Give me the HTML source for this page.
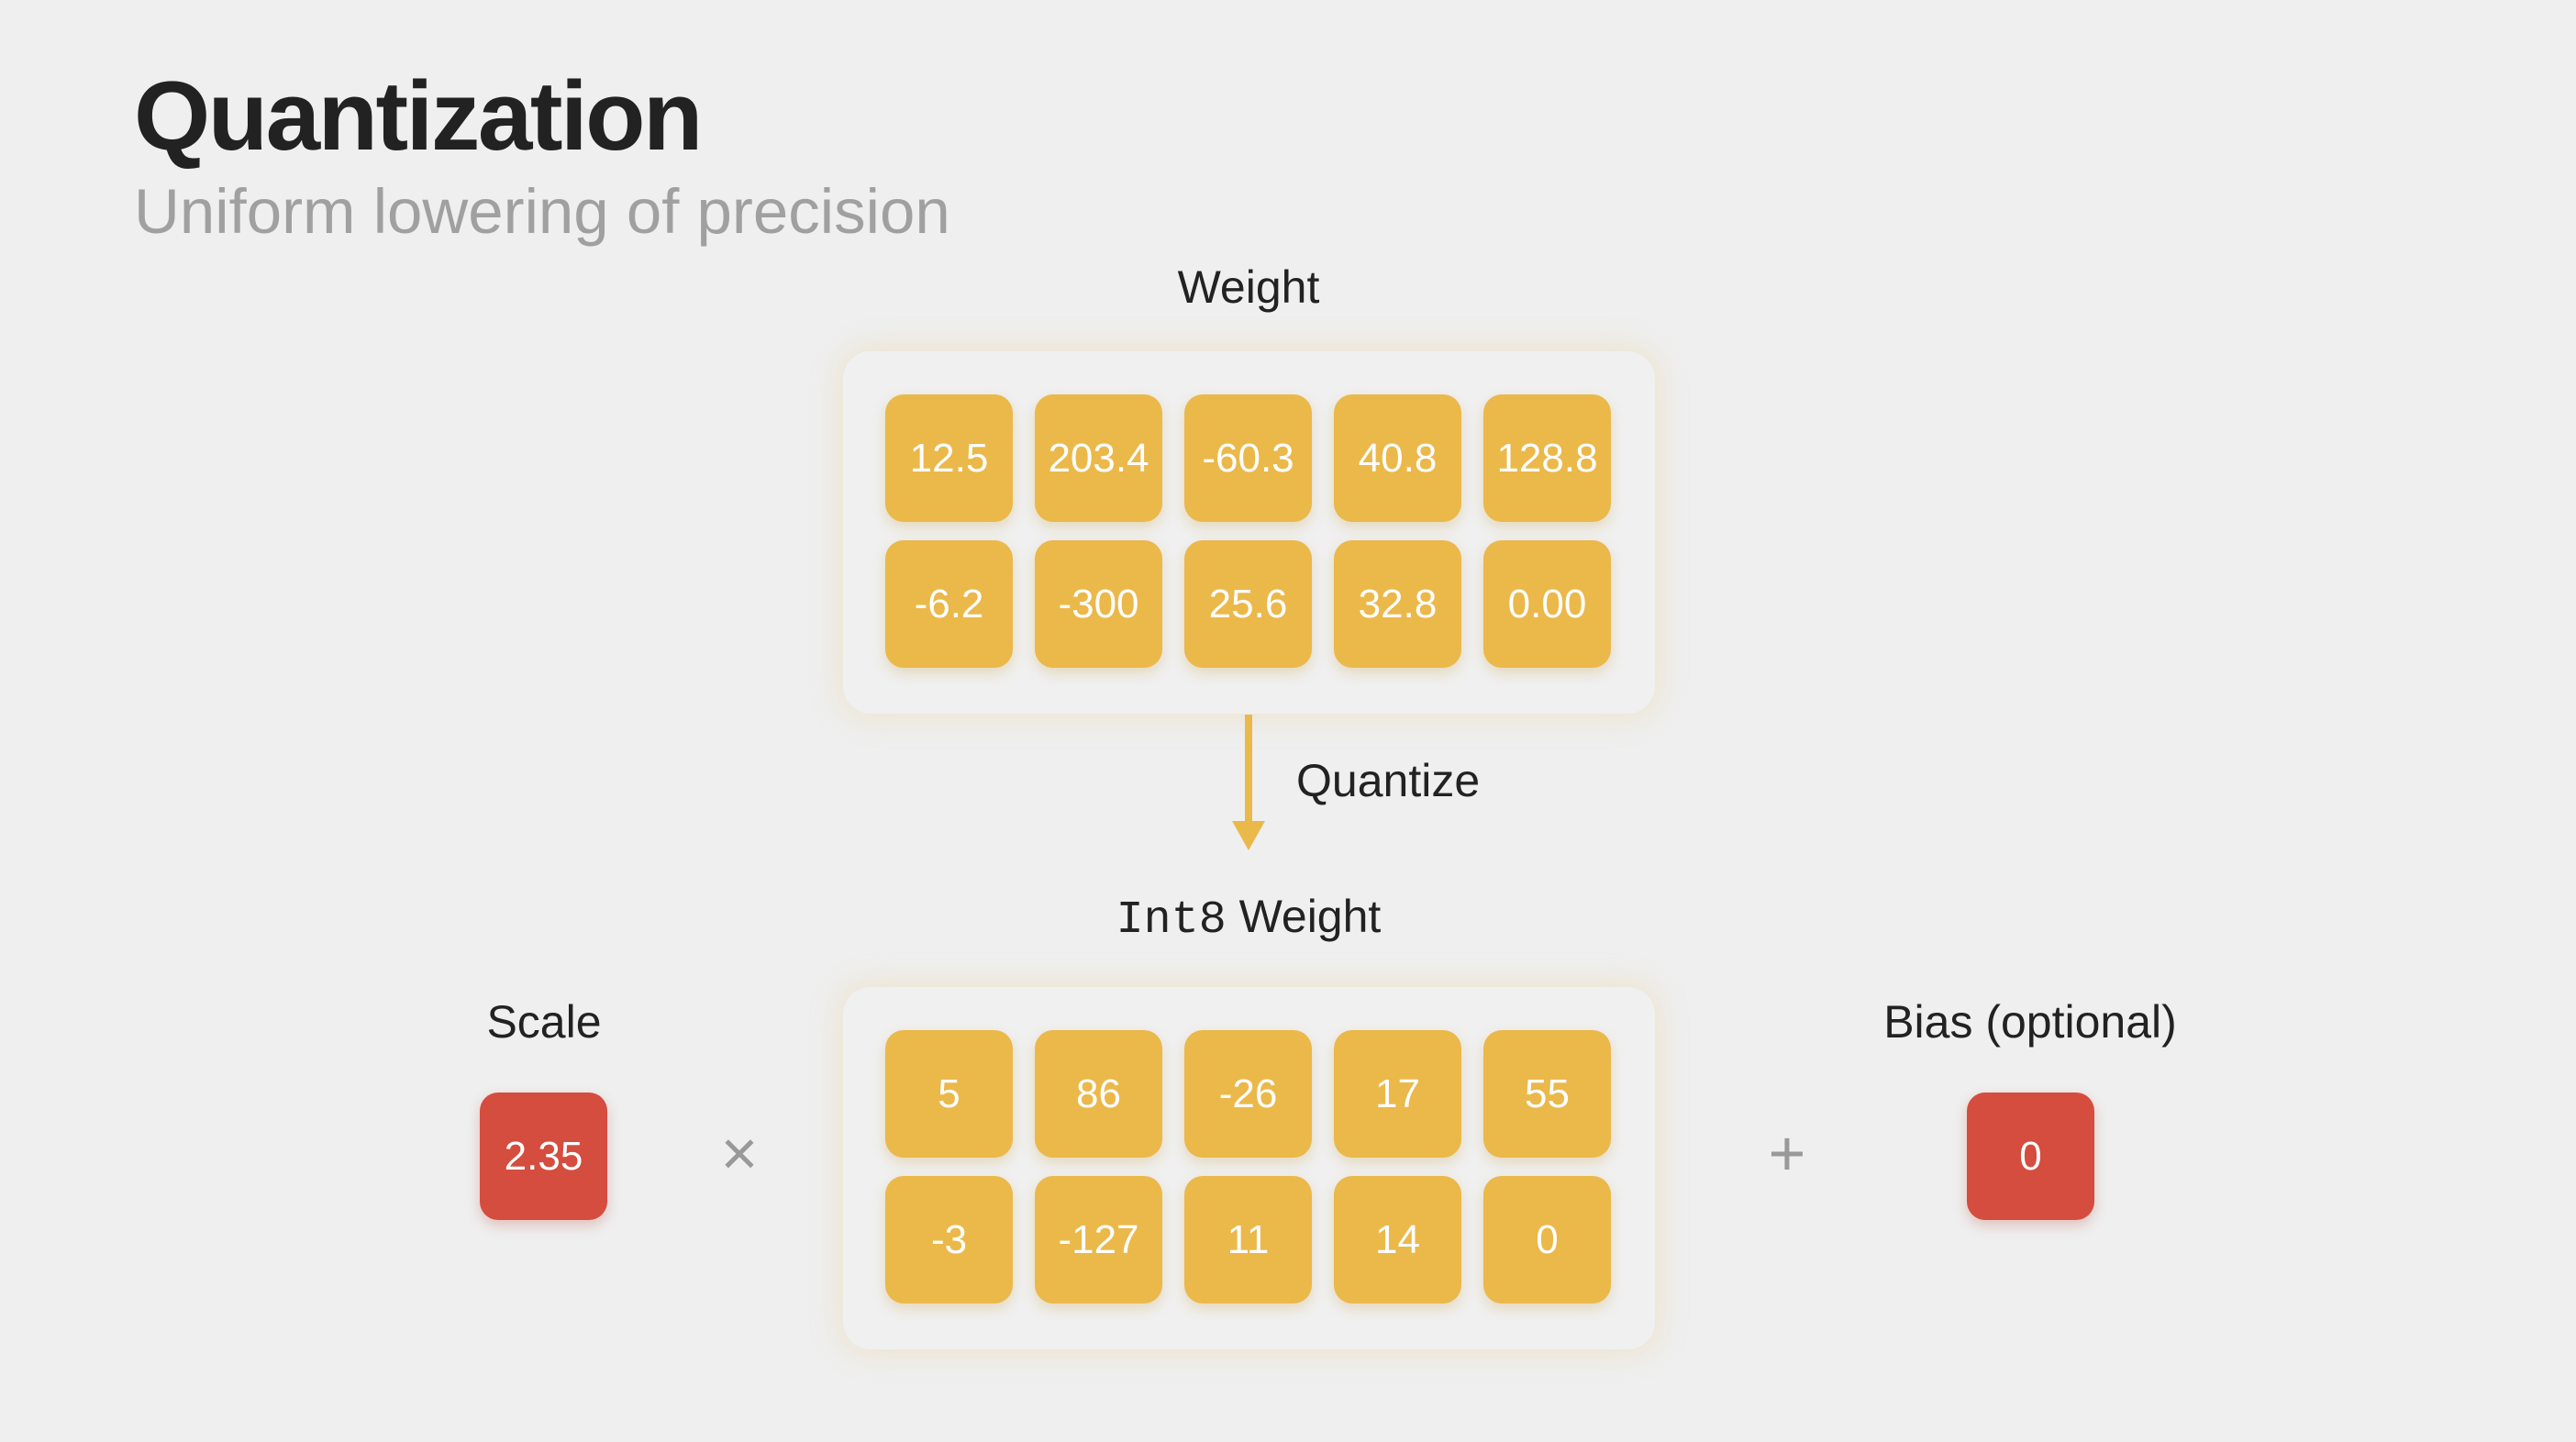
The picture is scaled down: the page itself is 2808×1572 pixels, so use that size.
<!DOCTYPE html>
<html><head><meta charset="utf-8"><style>
html,body{margin:0;padding:0}
body{width:2808px;height:1572px;background:#efefef;position:relative;overflow:hidden;font-family:"Liberation Sans",sans-serif}
.abs{position:absolute}
.title{left:146px;top:64px;font-size:107px;font-weight:bold;color:#222;letter-spacing:-2.5px}
.sub{left:146px;top:191px;font-size:69px;color:#a0a0a0}
.lbl{font-size:50px;color:#222;transform:translate(-50%,-50%);white-space:nowrap}
.panel{background:#f0f0f0;border-radius:30px;box-shadow:0 0 30px 6px rgba(235,200,120,0.25)}
.cell{width:139px;height:139px;border-radius:20px;background:#ebb84a;color:#fff;font-size:44px;display:flex;align-items:center;justify-content:center;box-shadow:0 6px 14px rgba(200,150,40,0.25)}
.red{background:#d44d3f;box-shadow:0 6px 14px rgba(180,60,40,0.25)}
.op{font-size:70px;color:#999;transform:translate(-50%,-50%)}
</style></head><body>
<div class="abs title">Quantization</div>
<div class="abs sub">Uniform lowering of precision</div>
<div class="abs lbl" style="left:1361px;top:313px">Weight</div>
<div class="abs panel" style="left:919px;top:383px;width:885px;height:395px"></div>
<div class="abs" style="left:1357px;top:779px;width:8px;height:125px;background:#ebb84a"></div>
<svg class="abs" style="left:1343px;top:895px" width="36" height="32"><polygon points="0,0 36,0 18,32" fill="#ebb84a"/></svg>
<div class="abs" style="left:1413px;top:822px;font-size:50px;color:#222">Quantize</div>
<div class="abs lbl" style="left:1361px;top:1001px"><span style="font-family:'Liberation Mono',monospace">Int8</span> Weight</div>
<div class="abs panel" style="left:919px;top:1076px;width:885px;height:395px"></div>
<div class="abs lbl" style="left:593px;top:1114px">Scale</div>
<div class="abs cell red" style="left:523px;top:1191px">2.35</div>
<div class="abs op" style="left:806px;top:1257px">×</div>
<div class="abs op" style="left:1948px;top:1257px">+</div>
<div class="abs lbl" style="left:2213px;top:1114px">Bias (optional)</div>
<div class="abs cell red" style="left:2144px;top:1191px">0</div>
<script>
const weights=["12.5","203.4","-60.3","40.8","128.8","-6.2","-300","25.6","32.8","0.00"];
const int8Weights=["5","86","-26","17","55","-3","-127","11","14","0"];
function grid(vals,top,name){
  vals.forEach((v,i)=>{
    const d=document.createElement('div');
    d.className='abs cell';
    d.style.left=(965+(i%5)*163)+'px';
    d.style.top=(top+Math.floor(i/5)*159)+'px';
    d.textContent=v;
    
    
    document.body.appendChild(d);
  });
}
grid(weights,430,'weight-cell');
grid(int8Weights,1123,'int8-weight-cell');
</script>
</body></html>
